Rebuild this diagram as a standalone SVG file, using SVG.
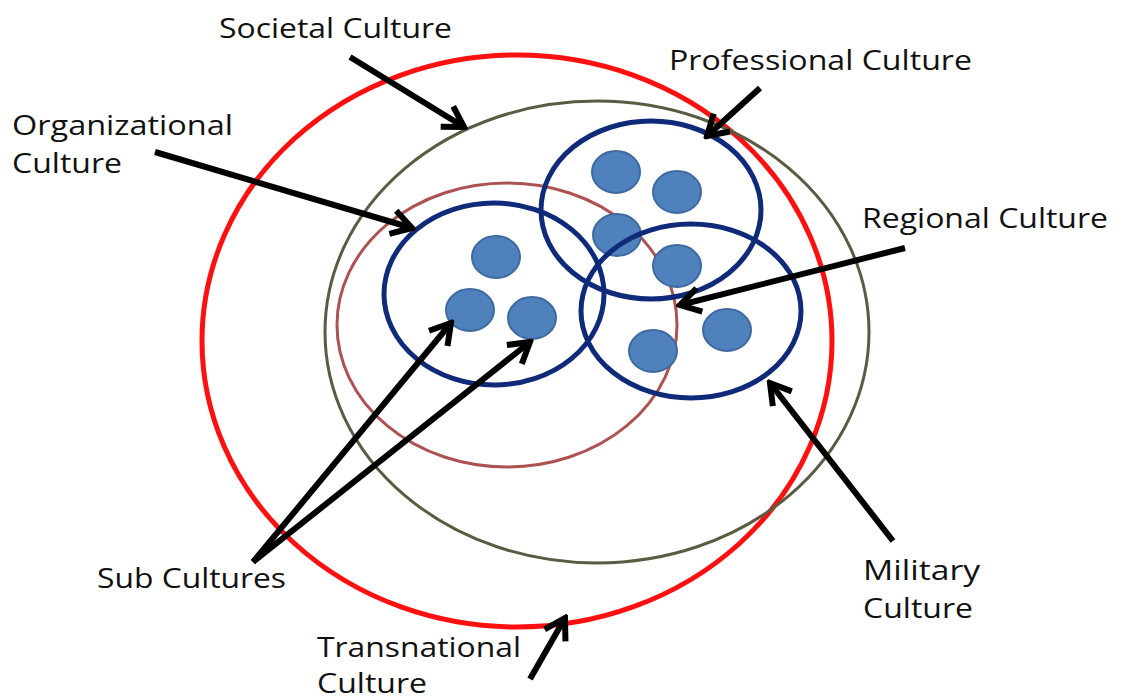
<svg xmlns="http://www.w3.org/2000/svg" width="1122" height="698" viewBox="0 0 1122 698">
<style>
.lbl{font-family:"Open Sans","Liberation Sans",sans-serif;font-size:27.5px;fill:#111}
.dot{fill:#4f81bd;stroke:#3d6aa0;stroke-width:2}
.blue{fill:none;stroke:#0f2a78;stroke-width:5}
.arr{stroke:#000;stroke-width:6;fill:none;marker-end:url(#ah)}
</style>
<defs>
<marker id="ah" markerUnits="userSpaceOnUse" viewBox="-26 -16 30 32" refX="0" refY="0" markerWidth="30" markerHeight="32" orient="auto">
<path d="M-20,-12 L0,0 L-20,12" fill="none" stroke="#000" stroke-width="6" stroke-linejoin="miter"/>
</marker>
</defs>
<rect width="1122" height="698" fill="#fff"/>
<g id="transnational"><ellipse cx="517" cy="341" rx="315" ry="286" fill="none" stroke="#ff1010" stroke-width="5"/></g>
<g id="societal"><ellipse cx="597" cy="332" rx="272" ry="231" fill="none" stroke="#5b5a42" stroke-width="3"/></g>
<g id="organizational"><ellipse cx="507" cy="325" rx="170" ry="142" fill="none" stroke="#ad5252" stroke-width="3"/></g>
<g id="sub-left">
<ellipse class="blue" cx="494" cy="294" rx="110" ry="91"/>
<ellipse class="dot" cx="496" cy="257" rx="24" ry="21"/>
<ellipse class="dot" cx="470" cy="310" rx="24" ry="21"/>
<ellipse class="dot" cx="532" cy="318" rx="24" ry="21"/>
</g>
<g id="professional">
<ellipse class="blue" cx="651" cy="210" rx="110" ry="89"/>
<ellipse class="dot" cx="616" cy="172" rx="24" ry="21"/>
<ellipse class="dot" cx="677" cy="192" rx="24" ry="21"/>
<ellipse class="dot" cx="617" cy="235" rx="24" ry="21"/>
<ellipse class="dot" cx="677" cy="266" rx="24" ry="21"/>
</g>
<g id="military">
<ellipse class="blue" cx="691" cy="311" rx="110" ry="87"/>
<ellipse class="dot" cx="727" cy="330" rx="24" ry="21"/>
<ellipse class="dot" cx="653" cy="351" rx="24" ry="21"/>
</g>
<g id="connectors">
<line class="arr" x1="350" y1="57" x2="464" y2="127"/>
<line class="arr" x1="155" y1="152" x2="412" y2="228"/>
<line class="arr" x1="760" y1="88" x2="707" y2="136"/>
<line class="arr" x1="905" y1="248" x2="680" y2="305"/>
<line class="arr" x1="253" y1="562" x2="451" y2="323"/>
<line class="arr" x1="253" y1="562" x2="530" y2="342"/>
<line class="arr" x1="893" y1="541" x2="770" y2="383"/>
<line class="arr" x1="530" y1="679" x2="565" y2="618"/>
</g>
<g id="labels">
<text class="lbl" x="219" y="38" textLength="233" lengthAdjust="spacingAndGlyphs">Societal Culture</text>
<text class="lbl" x="669" y="70" textLength="303" lengthAdjust="spacingAndGlyphs">Professional Culture</text>
<text class="lbl" x="12" y="135" textLength="221" lengthAdjust="spacingAndGlyphs">Organizational</text>
<text class="lbl" x="12" y="173" textLength="110" lengthAdjust="spacingAndGlyphs">Culture</text>
<text class="lbl" x="862" y="228" textLength="246" lengthAdjust="spacingAndGlyphs">Regional Culture</text>
<text class="lbl" x="97" y="588" textLength="189" lengthAdjust="spacingAndGlyphs">Sub Cultures</text>
<text class="lbl" x="863" y="580" textLength="117" lengthAdjust="spacingAndGlyphs">Military</text>
<text class="lbl" x="863" y="618" textLength="110" lengthAdjust="spacingAndGlyphs">Culture</text>
<text class="lbl" x="317" y="657" textLength="204" lengthAdjust="spacingAndGlyphs">Transnational</text>
<text class="lbl" x="317" y="693" textLength="110" lengthAdjust="spacingAndGlyphs">Culture</text>
</g>
</svg>
